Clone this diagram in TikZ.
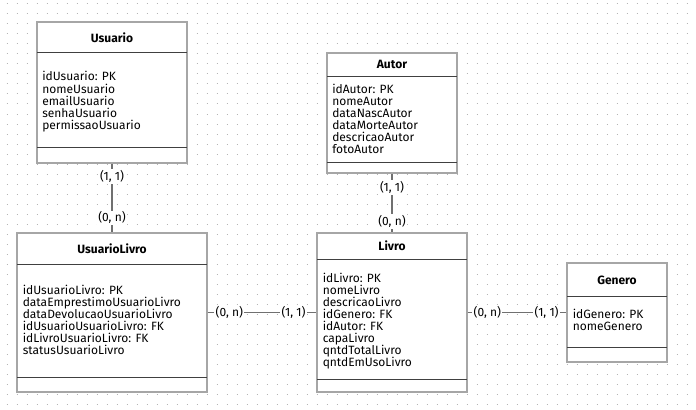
\documentclass[tikz,border=0pt]{standalone}
\usepackage{fontspec}
\setmainfont{Fira Sans}
\usetikzlibrary{fit}
\definecolor{boxgray}{HTML}{A6A6A6}
\definecolor{linegray}{HTML}{707070}
\definecolor{divgray}{HTML}{404040}
\definecolor{dotgray}{HTML}{B4B4B4}
\tikzset{
	entity/.style={draw=boxgray, fill=white, line width=1pt, inner sep=0pt},
	divider/.style={draw=divgray, line width=0.75pt},
	enttitle/.style={font=\fontsize{9}{9}\selectfont\bfseries, inner sep=0pt, anchor=base},
	attrs/.style={font=\fontsize{9}{9}\selectfont, align=left, inner sep=0pt, anchor=base west},
	card/.style={font=\fontsize{9}{9}\selectfont, fill=white, inner sep=1pt},
	rel/.style={draw=linegray, line width=0.9pt},
	dotrow/.style={draw=dotgray, line width=0.75pt, dash pattern=on 0.75pt off 6.75pt},
}
\begin{document}
\begin{tikzpicture}[x=0.75pt, y=-0.75pt]
	% Canvas
	\useasboundingbox (0,0) rectangle (696,410);
	\fill[white] (0,0) rectangle (696,410);
	\foreach \gy in {4,14,...,404}
		\draw[dotrow] (6.5,\gy) -- (696,\gy);
	
	% Usuario (attrs placed by baseline of last line)
	\node[entity, fit={(37,22) (187,163)}] (usuario) {};
	\draw[divider] (37,53) -- (187,53);
	\draw[divider] (37,147) -- (187,147);
	\node[enttitle] (usuarioTitle) at (112,43) {Usuario};
	\node[attrs] (usuarioAttrs) at (42,129) {idUsuario: PK\\nomeUsuario\\emailUsuario\\senhaUsuario\\permissaoUsuario};
	
	% UsuarioLivro
	\node[entity, fit={(17,233) (207,392)}] (usuarioLivro) {};
	\draw[divider] (17,264) -- (207,264);
	\draw[divider] (17,377) -- (207,377);
	\node[enttitle] (usuarioLivroTitle) at (112,253.5) {UsuarioLivro};
	\node[attrs] (usuarioLivroAttrs) at (22.5,354) {idUsuarioLivro: PK\\dataEmprestimoUsuarioLivro\\dataDevolucaoUsuarioLivro\\idUsuarioUsuarioLivro: FK\\idLivroUsuarioLivro: FK\\statusUsuarioLivro};
	
	% Autor
	\node[entity, fit={(327,53) (457,173)}] (autor) {};
	\draw[divider] (327,77) -- (457,77);
	\draw[divider] (327,162) -- (457,162);
	\node[enttitle] (autorTitle) at (392,69) {Autor};
	\node[attrs] (autorAttrs) at (332,153) {idAutor: PK\\nomeAutor\\dataNascAutor\\dataMorteAutor\\descricaoAutor\\fotoAutor};
	
	% Livro
	\node[entity, fit={(317,233) (467,392)}] (livro) {};
	\draw[divider] (317,259) -- (467,259);
	\draw[divider] (317,379) -- (467,379);
	\node[enttitle] (livroTitle) at (392,250) {Livro};
	\node[attrs] (livroAttrs) at (322.5,366) {idLivro: PK\\nomeLivro\\descricaoLivro\\idGenero: FK\\idAutor: FK\\capaLivro\\qntdTotalLivro\\qntdEmUsoLivro};
	
	% Genero
	\node[entity, fit={(567,263) (667,362)}] (genero) {};
	\draw[divider] (567,296) -- (667,296);
	\draw[divider] (567,347) -- (667,347);
	\node[enttitle] (generoTitle) at (617,284) {Genero};
	\node[attrs] (generoAttrs) at (572.5,330.7) {idGenero: PK\\nomeGenero};
	
	% Relationships
	\draw[rel] (usuario.south) -- (usuarioLivro.north)
		node[card, pos=0.19] (usuarioCardA) {(1, 1)}
		node[card, pos=0.79] (usuarioCardB) {(0, n)};
	\draw[rel] (autor.south) -- (livro.north)
		node[card, pos=0.23] (autorCardA) {(1, 1)}
		node[card, pos=0.82] (autorCardB) {(0, n)};
	\draw[rel] (usuarioLivro.east) -- (livro.west)
		node[card, pos=0.2] (emprestimoCardA) {(0, n)}
		node[card, pos=0.79] (emprestimoCardB) {(1, 1)};
	\draw[rel] (livro.east) -- (genero.west)
		node[card, pos=0.2] (generoCardA) {(0, n)}
		node[card, pos=0.8] (generoCardB) {(1, 1)};
\end{tikzpicture}
\end{document}
